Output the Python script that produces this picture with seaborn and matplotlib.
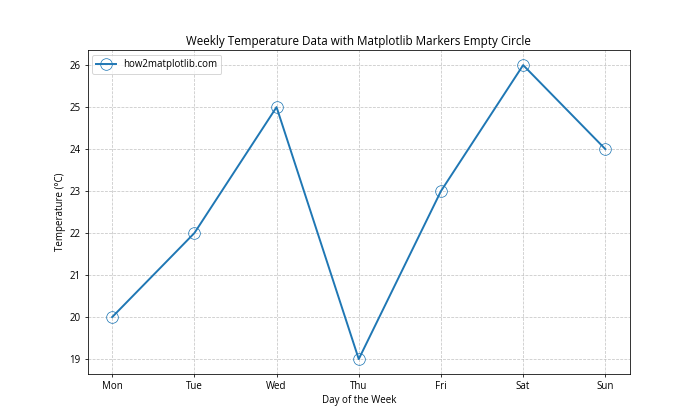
import matplotlib
matplotlib.use('Agg')
import matplotlib.pyplot as plt
import seaborn as sns
import pandas as pd

# data
days = ['Mon', 'Tue', 'Wed', 'Thu', 'Fri', 'Sat', 'Sun']
temps = [20, 22, 25, 19, 23, 26, 24]

df = pd.DataFrame({'day': days, 'temp': temps})

plt.rcParams['font.family'] = ['Open Sans', 'DejaVu Sans']
plt.rcParams['font.size'] = 10

fig, ax = plt.subplots(figsize=(10, 6), dpi=70)
sns.lineplot(data=df, x='day', y='temp', ax=ax, marker='o', markersize=12,
             markerfacecolor='none', markeredgecolor='#1f77b4', color='#1f77b4',
             linewidth=2, label='how2matplotlib.com', sort=False)

ax.set_title('Weekly Temperature Data with Matplotlib Markers Empty Circle', fontsize=12)
ax.set_xlabel('Day of the Week')
ax.set_ylabel('Temperature (°C)')
ax.grid(True, linestyle='--', alpha=0.7)
ax.legend(loc='upper left')

fig.savefig('out.png')
